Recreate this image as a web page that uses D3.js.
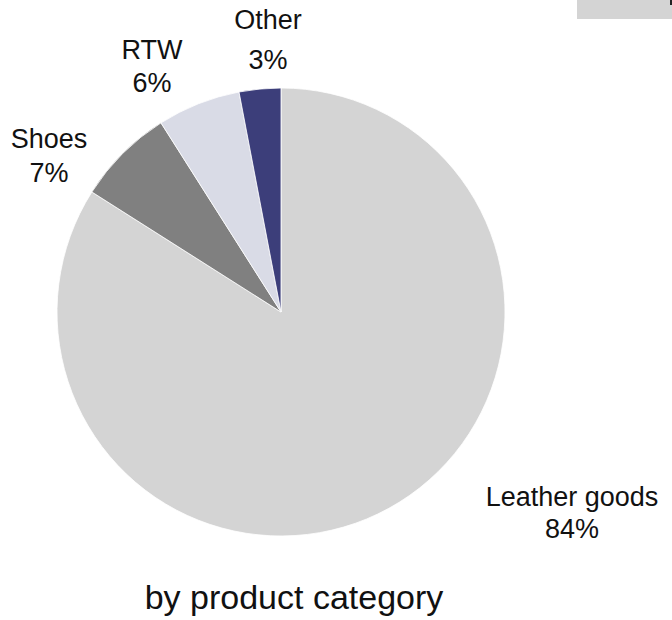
<!DOCTYPE html>
<html><head><meta charset="utf-8">
<script src="https://cdn.jsdelivr.net/npm/d3@7"></script>
<style>body{margin:0;background:#fff}svg{display:block}text{font-family:"Liberation Sans",Arial,sans-serif;fill:#111}</style>
</head><body>
<svg id="c" width="672" height="620"></svg>
<script>
const categories = ["Leather goods","Shoes","RTW","Other"];
const values = [84,7,6,3];
const colors = ["#d4d4d4","#808080","#d9dbe6","#3c3e7a"];
const labelPos = [[572,506,32],[49,148,34],[152,59,33],[268,29,40]];
const title = "by product category";

const svg = d3.select("#c");
svg.append("rect").attr("x",577).attr("y",0).attr("width",95).attr("height",19).attr("fill","#d4d4d4");
svg.append("rect").attr("x",670).attr("y",0).attr("width",2).attr("height",5).attr("fill","#222");

const cx=281, cy=312, r=224;
const pie = d3.pie().sort(null).value(d=>d)(values);
const arc = d3.arc().innerRadius(0).outerRadius(r);
const g = svg.append("g").attr("transform",`translate(${cx},${cy})`);
g.selectAll("path").data(pie).join("path").attr("d",arc)
  .attr("fill",(d,i)=>colors[i]).attr("stroke","#fff").attr("stroke-width",0.8);

const lab = svg.append("g");
categories.forEach((c,i)=>{
  const p = labelPos[i];
  const t = lab.append("text").attr("text-anchor","middle").attr("font-size",27)
    .attr("x",p[0]).attr("y",p[1]);
  t.append("tspan").attr("x",p[0]).text(c);
  t.append("tspan").attr("x",p[0]).attr("dy",p[2]).text(values[i]+"%");
});
svg.append("text").attr("x",294).attr("y",609).attr("text-anchor","middle")
  .attr("font-size",34).text(title);
</script>
</body></html>
